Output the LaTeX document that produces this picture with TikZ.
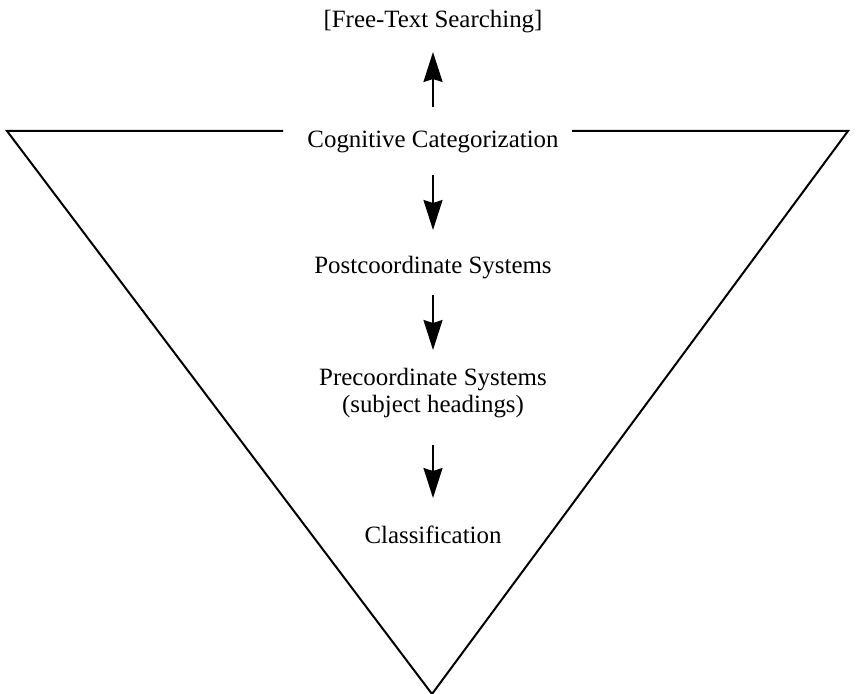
\documentclass[tikz,border=0pt]{standalone}
\usepackage{fontspec}
\setmainfont{Liberation Serif}
\usetikzlibrary{arrows.meta}
\begin{document}
\begin{tikzpicture}[x=1bp,y=-1bp,
  lbl/.style={font=\fontsize{25}{27}\selectfont, inner sep=0pt, align=center},
  arr/.style={line width=2.2bp, -{Stealth[length=30bp,width=19bp,inset=3bp]}},
  edge/.style={line width=2bp, line join=miter}]
\useasboundingbox (0,0) rectangle (856,694);
\node[lbl] (fts) at (433,22) {[Free-Text Searching]};
\node[lbl] (cc) at (433,142) {Cognitive Categorization};
\node[lbl] (post) at (433,268) {Postcoordinate Systems};
\node[lbl] (pre) at (433,393) {Precoordinate Systems\\(subject headings)};
\node[lbl] (cls) at (433,535) {Classification};
\coordinate (tl) at (7,131);
\coordinate (tr) at (848,131);
\coordinate (bot) at (432,694);
\coordinate (gl) at (283,131);
\coordinate (gr) at (572,131);
\draw[edge] (gl) -- (tl) -- (bot) -- (tr) -- (gr);
\coordinate (a1s) at (433,107); \coordinate (a1e) at (433,52);
\draw[arr] (a1s) -- (a1e);
\coordinate (a2s) at (433,175); \coordinate (a2e) at (433,230);
\draw[arr] (a2s) -- (a2e);
\coordinate (a3s) at (433,295); \coordinate (a3e) at (433,350);
\draw[arr] (a3s) -- (a3e);
\coordinate (a4s) at (433,445); \coordinate (a4e) at (433,498);
\draw[arr] (a4s) -- (a4e);
\end{tikzpicture}
\end{document}
